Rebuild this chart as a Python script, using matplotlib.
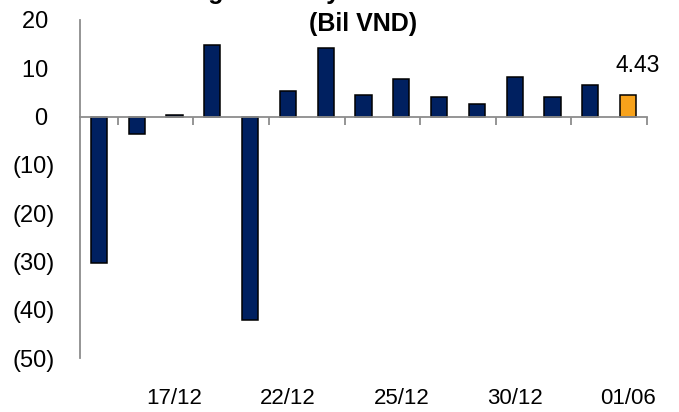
import matplotlib
matplotlib.use("Agg")
import matplotlib.pyplot as plt
import matplotlib.transforms as mtransforms

plt.rcParams['font.family'] = ['Liberation Sans', 'DejaVu Sans']

# ---- data ----
values = [-30.4, -3.7, 0.4, 14.8, -42.2, 5.3, 14.3, 4.5, 7.7, 4.0, 2.5, 8.1, 4.0, 6.5, 4.43]
x_labels = ['', '', '17/12', '', '', '22/12', '', '', '25/12', '', '', '30/12', '', '', '01/06']
y_ticks = [20, 10, 0, -10, -20, -30, -40, -50]
title_line1 = "Foreign Net Buy/Sell Value on HOSE"
title_line2 = "(Bil VND)"
last_label = "4.43"

navy = '#002060'
orange = '#F7A21B'
grey = '#8C8C8C'

fig = plt.figure(figsize=(6.79, 4.12), dpi=100)
ax = fig.add_axes([80/679, 1-358/412, (647-80)/679, (358-20)/412])

xs = list(range(len(values)))
colors = [navy]*(len(values)-1) + [orange]
ax.bar(xs, values, width=0.43, color=colors, edgecolor='black', linewidth=1.1, zorder=3)

ax.set_xlim(-0.5, len(values)-0.5)
ax.set_ylim(-50, 20)

# spines
for s in ['top', 'right']:
    ax.spines[s].set_visible(False)
ax.spines['left'].set_color(grey)
ax.spines['left'].set_linewidth(1.3)
ax.spines['bottom'].set_position(('data', 0))
ax.spines['bottom'].set_color(grey)
ax.spines['bottom'].set_linewidth(1.3)
ax.spines['bottom'].set_zorder(4)

# x ticks at category boundaries every 2
ax.set_xticks([i + 0.5 for i in range(0, len(values), 2)])
ax.set_xticklabels([])
ax.tick_params(axis='x', direction='out', length=5.5, width=1.3, color=grey)

# y ticks
def fmt(v):
    return f"({abs(v)})" if v < 0 else f"{v} "
ax.set_yticks(y_ticks)
ax.set_yticklabels([fmt(v) for v in y_ticks])
ax.tick_params(axis='y', length=0, pad=18, labelsize=17)

# category labels at the bottom
trans = mtransforms.blended_transform_factory(ax.transData, ax.transAxes)
for i, lab in enumerate(x_labels):
    if lab:
        ax.text(i, -40/338, lab, transform=trans, ha='center', va='center', fontsize=16)

# value label on last bar
ax.annotate(last_label, xy=(xs[-1], values[-1]), xytext=(7, 16.5), textcoords='offset points',
            ha='center', va='baseline', fontsize=16.5)

# title (first line partly cut off at top, as in the reference)
fig.text(363/679, 1 + 1/412, title_line1, ha='center', va='baseline', fontsize=18, fontweight='bold')
fig.text(363/679, 1 - 31/412, title_line2, ha='center', va='baseline', fontsize=18, fontweight='bold')

fig.savefig('out.png', dpi=100)
